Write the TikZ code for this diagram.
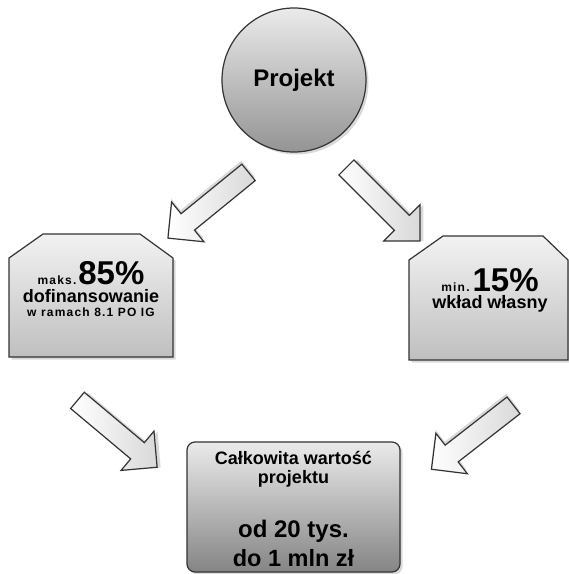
\documentclass[tikz,border=0pt]{standalone}
\usepackage{fontspec}
\setmainfont{Liberation Sans}
\usetikzlibrary{shapes.arrows,shadows}
\newcommand{\lspaced}[1]{{\fontsize{12}{14}\selectfont\addfontfeature{LetterSpace=10}#1}}

\begin{document}
\begin{tikzpicture}[x=1pt, y=-1pt, line width=1.2pt,
  shd/.style={drop shadow={shadow xshift=2.5pt, shadow yshift=-2.5pt, opacity=0.3}},
  proj/.style={circle, draw=black!80, minimum size=144pt, top color=black!8, bottom color=black!42, shd, font=\fontsize{24}{28}\selectfont\bfseries},
  cutbox/.style={draw=black!80, top color=black!5, bottom color=black!25, shd},
  share/.style={align=center, inner sep=0pt, font=\fontsize{18}{18}\selectfont\bfseries},
  total/.style={rectangle, rounded corners=8pt, draw=black!80, minimum width=213pt, minimum height=130pt, top color=black!8, bottom color=black!48, shd, align=center, font=\fontsize{18}{19}\selectfont\bfseries},
  bigarrow/.style={single arrow, draw=black!80, minimum height=104pt, minimum width=50pt, single arrow head extend=15pt, inner sep=10pt, left color=white, right color=black!15, rotate=#1}]
  \useasboundingbox (0,0) rectangle (569,574);
  % nodes
  \node[proj] (proj) at (294,80) {Projekt};
  \draw[cutbox] (9,258) -- (43,234) -- (140,234) -- (173,258) -- (173,357) -- (9,357) -- cycle;
  \draw[cutbox] (409,260) -- (443,236) -- (543,236) -- (568,260) -- (568,360) -- (409,360) -- cycle;
  \node[share] (dof) at (91,289) {\lspaced{maks.}\kern2pt{\fontsize{33}{33}\selectfont 85\%}\\dofinansowanie\\[-4pt]\lspaced{w ramach 8.1 PO IG}};
  \node[share, font=\fontsize{18}{17}\selectfont\bfseries] (own) at (490,290) {\lspaced{min.}\kern3pt{\fontsize{33}{33}\selectfont 15\%}\\wkład własny};
  \node[total] (total) at (293.5,507) {\rule{0pt}{17pt}Całkowita wartość\\projektu\\[32pt]{\fontsize{24}{28}\selectfont od 20 tys.}\\[6pt]{\fontsize{23.5}{28}\selectfont do 1 mln zł}};
  % arrows
  \node[bigarrow=219.2, anchor=tail, drop shadow={shadow xshift=-0.4pt, shadow yshift=3.5pt, opacity=0.3}] (arrow1) at (249,172) {};
  \node[bigarrow=-45, anchor=tail, drop shadow={shadow xshift=3.5pt, shadow yshift=0pt, opacity=0.3}] (arrow2) at (346,167) {};
  \node[bigarrow=-40, anchor=tail, drop shadow={shadow xshift=3.5pt, shadow yshift=-0.3pt, opacity=0.3}] (arrow3) at (77,400) {};
  \node[bigarrow=217.9, anchor=tail, drop shadow={shadow xshift=-0.4pt, shadow yshift=3.5pt, opacity=0.3}] (arrow4) at (514,405) {};
\end{tikzpicture}
\end{document}
